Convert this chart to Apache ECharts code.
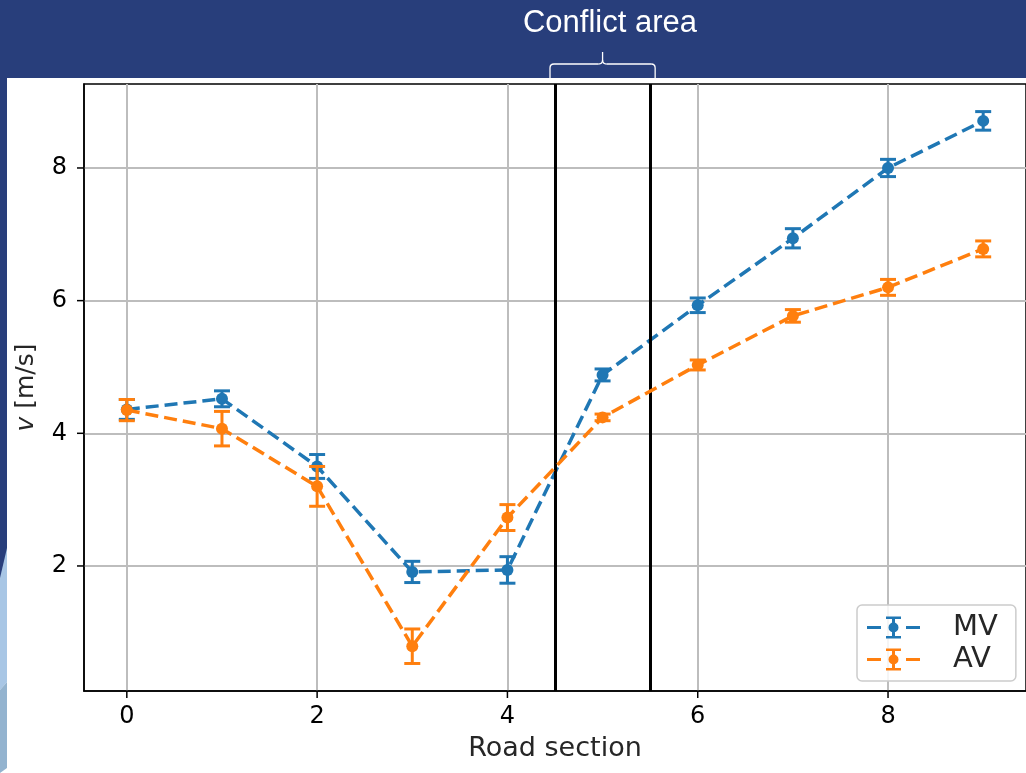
<!DOCTYPE html>
<html>
<head>
<meta charset="utf-8">
<script src="https://cdn.jsdelivr.net/npm/echarts@6/dist/echarts.min.js"></script>
<style>
  html, body { margin: 0; padding: 0; background: #ffffff; }
  #chart { width: 1026px; height: 773px; }
</style>
</head>
<body>
<div id="chart"></div>
<script>
// Road sections along the approach
const sections = [0, 1, 2, 3, 4, 5, 6, 7, 8, 9];
// Mean speed and error per section, manually driven vehicles (MV)
const mvSpeed = [4.36, 4.52, 3.50, 1.91, 1.94, 4.88, 5.93, 6.94, 8.00, 8.71];
const mvErr   = [0.15, 0.12, 0.18, 0.16, 0.20, 0.09, 0.11, 0.145, 0.13, 0.14];
// Mean speed and error per section, automated vehicles (AV)
const avSpeed = [4.35, 4.07, 3.20, 0.79, 2.73, 4.24, 5.03, 5.77, 6.20, 6.78];
const avErr   = [0.16, 0.26, 0.30, 0.26, 0.195, 0.05, 0.075, 0.095, 0.12, 0.12];
// Tick positions
const xTicks = [0, 2, 4, 6, 8];
const yTicks = [2, 4, 6, 8];
// Axis ranges
const xRange = [-0.45, 9.45];
const yRange = [0.115, 9.266];
// Section boundaries of the conflict area
const conflictBounds = [4.5, 5.5];

const MV_COLOR = '#1f77b4';
const AV_COLOR = '#ff7f0e';
const TICK_LEN = 7;

const chart = echarts.init(document.getElementById('chart'), null, { renderer: 'canvas' });

function pointData(vals) {
  return sections.map((s, i) => [s, vals[i]]);
}
function errData(vals, errs) {
  return sections.map((s, i) => [s, vals[i] - errs[i], vals[i] + errs[i]]);
}

function errorBarItem(params, api) {
  const x = api.value(0);
  const top = api.coord([x, api.value(2)]);
  const bot = api.coord([x, api.value(1)]);
  const hw = 8;
  const style = { stroke: api.visual('color'), lineWidth: 3 };
  return {
    type: 'group',
    children: [
      { type: 'line', shape: { x1: top[0], y1: top[1], x2: bot[0], y2: bot[1] }, style },
      { type: 'line', shape: { x1: top[0] - hw, y1: top[1], x2: top[0] + hw, y2: top[1] }, style },
      { type: 'line', shape: { x1: bot[0] - hw, y1: bot[1], x2: bot[0] + hw, y2: bot[1] }, style }
    ]
  };
}

// Legend glyph: dashed line with an error bar and marker in the middle
const legendIcon = 'path://M0 9.5h14v3h-14z M39 9.5h14v3h-14z M25 1h3v20h-3z M19 0h15v2.5h-15z M19 19.5h15v2.5h-15z M21.5 11a5 5 0 1 1 10 0a5 5 0 1 1 -10 0z';

const tickFont = { fontFamily: 'DejaVu Sans', fontSize: 24, color: '#000000' };
const nameFont = { fontFamily: 'DejaVu Sans', fontSize: 27, color: '#262626' };
const axisLineStyle = { show: true, onZero: false, lineStyle: { color: '#000000', width: 1.5 } };

const option = {
  animation: false,
  backgroundColor: '#ffffff',
  grid: {
    left: 84, top: 84, width: 945, height: 607,
    show: true, borderColor: '#000000', borderWidth: 1.5,
    backgroundColor: 'transparent'
  },
  xAxis: {
    type: 'value',
    min: xRange[0], max: xRange[1],
    name: 'Road section',
    nameLocation: 'middle',
    nameGap: 44,
    nameTextStyle: nameFont,
    axisLine: axisLineStyle,
    axisTick: { show: false, customValues: xTicks },
    axisLabel: Object.assign({ customValues: xTicks, margin: 14 }, tickFont),
    splitLine: { show: true, lineStyle: { color: '#bdbdbd', width: 2 } }
  },
  yAxis: {
    type: 'value',
    min: yRange[0], max: yRange[1],
    name: '{i|v} [m/s]',
    nameLocation: 'middle',
    nameGap: 45,
    nameTextStyle: Object.assign({
      rich: { i: { fontFamily: 'DejaVu Sans', fontSize: 25, fontStyle: 'italic', color: '#262626' } }
    }, nameFont, { fontSize: 25 }),
    axisLine: axisLineStyle,
    axisTick: { show: false, customValues: yTicks },
    axisLabel: Object.assign({ customValues: yTicks, margin: 17 }, tickFont),
    splitLine: { show: true, lineStyle: { color: '#bdbdbd', width: 2 } }
  },
  legend: {
    orient: 'vertical',
    left: 857, top: 605,
    padding: [8, 18, 7, 10],
    itemGap: 3,
    itemWidth: 53, itemHeight: 22,
    backgroundColor: 'rgba(255,255,255,0.85)',
    borderColor: '#cccccc', borderWidth: 1.5, borderRadius: 5,
    textStyle: {
      fontFamily: 'DejaVu Sans', fontSize: 29, lineHeight: 28, color: '#262626',
      padding: [0, 0, 0, 28]
    },
    data: [
      { name: 'MV', icon: legendIcon },
      { name: 'AV', icon: legendIcon }
    ]
  },
  series: [
    {
      name: 'MV', type: 'custom', z: 3,
      itemStyle: { color: MV_COLOR },
      renderItem: errorBarItem,
      encode: { x: 0, y: [1, 2] },
      data: errData(mvSpeed, mvErr),
      silent: true
    },
    {
      name: 'MV', type: 'line', z: 4,
      data: pointData(mvSpeed),
      color: MV_COLOR,
      symbol: 'circle', symbolSize: 12, showSymbol: true,
      itemStyle: { color: MV_COLOR },
      lineStyle: { color: MV_COLOR, width: 3.5, type: [13, 6] },
      silent: true,
      markLine: {
        silent: true, symbol: 'none', animation: false,
        label: { show: false },
        lineStyle: { color: '#000000', width: 3, type: 'solid' },
        data: conflictBounds.map(v => ({ xAxis: v }))
      }
    },
    {
      name: 'AV', type: 'custom', z: 5,
      itemStyle: { color: AV_COLOR },
      renderItem: errorBarItem,
      encode: { x: 0, y: [1, 2] },
      data: errData(avSpeed, avErr),
      silent: true
    },
    {
      name: 'AV', type: 'line', z: 6,
      data: pointData(avSpeed),
      color: AV_COLOR,
      symbol: 'circle', symbolSize: 12, showSymbol: true,
      itemStyle: { color: AV_COLOR },
      lineStyle: { color: AV_COLOR, width: 3.5, type: [13, 6] },
      silent: true
    }
  ]
};

chart.setOption(option);

// Outward tick marks on the bottom and left frame edges, placed through the axis scales
const tickStyle = { stroke: '#000000', lineWidth: 1.5 };
const tickMarks = [];
xTicks.forEach(v => {
  const p = chart.convertToPixel({ gridIndex: 0 }, [v, yRange[0]]);
  tickMarks.push({ type: 'line', silent: true, shape: { x1: p[0], y1: p[1], x2: p[0], y2: p[1] + TICK_LEN }, style: tickStyle });
});
yTicks.forEach(v => {
  const p = chart.convertToPixel({ gridIndex: 0 }, [xRange[0], v]);
  tickMarks.push({ type: 'line', silent: true, shape: { x1: p[0] - TICK_LEN, y1: p[1], x2: p[0], y2: p[1] }, style: tickStyle });
});

// Header band, side strip and the brace marking the conflict area
const leftPx = chart.convertToPixel({ xAxisIndex: 0 }, conflictBounds[0]) - 5;
const rightPx = chart.convertToPixel({ xAxisIndex: 0 }, conflictBounds[1]) + 5;
const midPx = (leftPx + rightPx) / 2;
const bY = 64, bTip = 52, bBase = 80, r = 4;
const braceStyle = { fill: null, stroke: '#ffffff', lineWidth: 1.3 };
function braceLine(x1, y1, x2, y2) {
  return { type: 'line', silent: true, shape: { x1, y1, x2, y2 }, style: braceStyle };
}
function braceCurve(x1, y1, cx, cy, x2, y2) {
  return { type: 'bezierCurve', silent: true, shape: { x1, y1, cpx1: cx, cpy1: cy, x2, y2 }, style: braceStyle };
}

chart.setOption({
  graphic: [
    { type: 'group', z: 10, silent: true, children: tickMarks },
    { type: 'rect', z: -10, silent: true, shape: { x: 0, y: 0, width: 1026, height: 78 }, style: { fill: '#283e7b' } },
    { type: 'rect', z: -10, silent: true, shape: { x: 0, y: 78, width: 7, height: 500 }, style: { fill: '#283e7b' } },
    { type: 'polygon', z: -10, silent: true, shape: { points: [[0, 578], [7, 548], [7, 682], [0, 690]] }, style: { fill: '#a8c6e5' } },
    { type: 'polygon', z: -10, silent: true, shape: { points: [[0, 690], [7, 682], [7, 768], [0, 773]] }, style: { fill: '#93b3cf' } },
    {
      type: 'group', z: 10, silent: true,
      children: [
        braceLine(leftPx, bBase, leftPx, bY + r),
        braceCurve(leftPx, bY + r, leftPx, bY, leftPx + r, bY),
        braceLine(leftPx + r, bY, midPx - r, bY),
        braceCurve(midPx - r, bY, midPx, bY, midPx, bY - r),
        braceLine(midPx, bY - r, midPx, bTip),
        braceCurve(midPx, bY - r, midPx, bY, midPx + r, bY),
        braceLine(midPx + r, bY, rightPx - r, bY),
        braceCurve(rightPx - r, bY, rightPx, bY, rightPx, bY + r),
        braceLine(rightPx, bY + r, rightPx, bBase)
      ]
    },
    {
      type: 'text', z: 10, silent: true,
      x: 610, y: 23,
      style: {
        text: 'Conflict area', fill: '#ffffff',
        font: '31px "Liberation Sans"',
        align: 'center', verticalAlign: 'middle'
      }
    }
  ]
});
</script>
</body>
</html>
